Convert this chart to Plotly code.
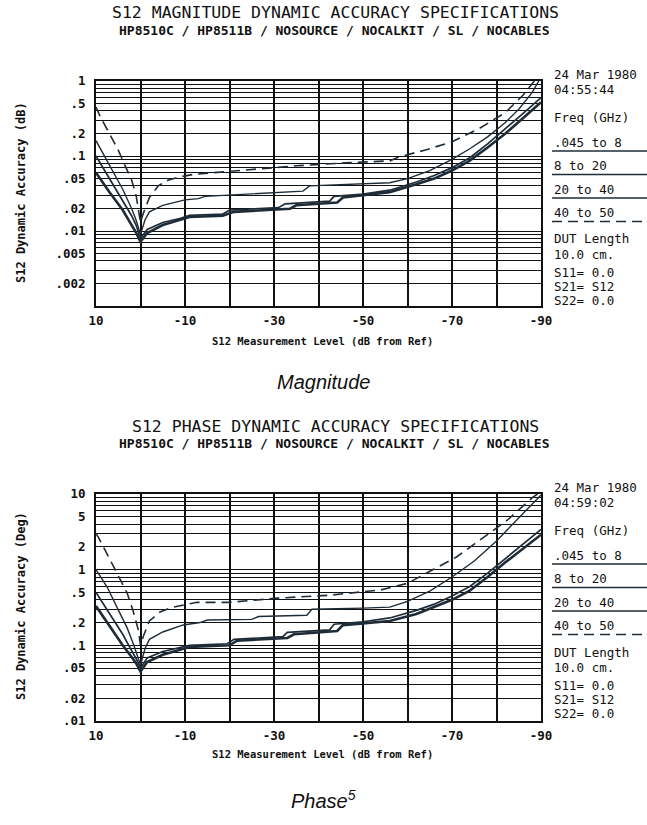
import plotly.graph_objects as go

W, H = 647, 825
INK = "#1f2c37"
GRID = "#111111"
MONO = "DejaVu Sans Mono"

# ---------------- tick labels ----------------
X_TICKS = [10, -10, -30, -50, -70, -90]
X_TICK_TEXT = ["10", "-10", "-30", "-50", "-70", "-90"]
X_MINOR = [0, -20, -40, -60, -80]

MAG_TICKS = [1, 0.5, 0.2, 0.1, 0.05, 0.02, 0.01, 0.005, 0.002]
MAG_TICK_TEXT = ["1", ".5", ".2", ".1", ".05", ".02", ".01", ".005", ".002"]
PH_TICKS = [10, 5, 2, 1, 0.5, 0.2, 0.1, 0.05, 0.02, 0.01]
PH_TICK_TEXT = ["10", "5", "2", "1", ".5", ".2", ".1", ".05", ".02", ".01"]

LEGEND_BANDS = [".045 to 8", "8 to 20", "20 to 40", "40 to 50"]

# ---------------- magnitude curves (dB) ----------------
mag_x_4050 = [10, 9, 7, 5, 3.5, 2, 1, 0, -0.6, -2, -4, -6, -9, -12, -18, -27, -35,
              -46, -56, -58, -64, -70, -76, -82, -86, -88.5]
mag_y_4050 = [0.45, 0.33, 0.2, 0.12, 0.075, 0.048, 0.03, 0.013, 0.017, 0.028, 0.04,
              0.047, 0.053, 0.057, 0.061, 0.067, 0.074, 0.081, 0.086, 0.097, 0.12,
              0.155, 0.23, 0.38, 0.65, 1.0]

mag_x_2040 = [10, 7, 4, 2, 1, 0, -1, -2, -5, -10, -13, -14.5, -25, -36.5, -38, -50,
              -56, -60, -65, -70, -74, -78, -82, -85, -88, -89.5]
mag_y_2040 = [0.16, 0.075, 0.036, 0.02, 0.014, 0.009, 0.014, 0.018, 0.022, 0.026,
              0.027, 0.029, 0.031, 0.034, 0.04, 0.042, 0.044, 0.05, 0.064, 0.09,
              0.125, 0.18, 0.28, 0.42, 0.7, 1.0]

mag_x_820 = [10, 7, 4, 2, 1, 0, -1.5, -5, -9, -11, -18.5, -20, -31, -32.5, -42.5,
             -43.5, -50, -56, -62, -66, -70, -74, -78, -82, -86, -90]
mag_y_820 = [0.1, 0.05, 0.026, 0.016, 0.012, 0.008, 0.0105, 0.013, 0.0148, 0.0162,
             0.0168, 0.019, 0.0205, 0.023, 0.025, 0.029, 0.031, 0.035, 0.045, 0.055,
             0.07, 0.095, 0.145, 0.23, 0.37, 0.6]

mag_x_0458 = [10, 7, 4, 2, 1, 0, -1.5, -5, -9, -11, -18.5, -21, -33.6, -35, -44.2,
              -45.5, -50, -56, -62, -66, -70, -74, -78, -82, -86, -90]
mag_y_0458 = [0.06, 0.033, 0.019, 0.012, 0.0095, 0.0072, 0.0094, 0.012, 0.014,
              0.0154, 0.016, 0.018, 0.0198, 0.022, 0.024, 0.028, 0.03, 0.033, 0.042,
              0.05, 0.064, 0.087, 0.13, 0.2, 0.32, 0.52]

# ---------------- phase curves (deg) ----------------
ph_x_4050 = [10, 9.5, 6.8, 5.3, 3, 1.7, 0.5, 0, -0.6, -2, -4.4, -7.3, -9.6, -12.7,
             -20, -30.7, -42.6, -54, -60, -65.7, -71, -76.3, -82.4, -88.2, -89.2]
ph_y_4050 = [3.0, 2.7, 1.34, 0.9, 0.49, 0.29, 0.16, 0.1, 0.13, 0.21, 0.276, 0.32,
             0.34, 0.37, 0.37, 0.42, 0.46, 0.54, 0.66, 0.99, 1.47, 2.47, 4.5, 9.1, 10.0]

ph_x_2040 = [10, 7.5, 5.3, 3, 1.5, 0, -1, -2, -5, -9.6, -13.4, -15, -25, -26.5, -37.4,
             -38.5, -50, -56, -60, -65, -70, -75, -80, -85, -90]
ph_y_2040 = [1.0, 0.59, 0.32, 0.17, 0.1, 0.055, 0.09, 0.12, 0.15, 0.186, 0.2, 0.216,
             0.22, 0.24, 0.25, 0.3, 0.31, 0.32, 0.38, 0.52, 0.8, 1.3, 2.4, 4.9, 9.7]

ph_x_820 = [10, 7, 4, 2, 1, 0, -1.5, -5, -9, -11, -19.5, -21, -32, -33, -42.5, -43.5,
            -50, -56, -62, -66, -70, -74, -78, -82, -86, -90]
ph_y_820 = [0.5, 0.26, 0.14, 0.085, 0.067, 0.05, 0.068, 0.083, 0.095, 0.1, 0.105,
            0.12, 0.13, 0.148, 0.16, 0.19, 0.205, 0.23, 0.29, 0.35, 0.45, 0.6, 0.9,
            1.4, 2.2, 3.4]

ph_x_0458 = [10, 7, 4, 2, 1, 0, -1.5, -5, -9, -11, -20, -21.7, -33, -34.5, -44.2,
             -45.5, -50, -56, -62, -66, -70, -74, -78, -82, -86, -90]
ph_y_0458 = [0.33, 0.18, 0.1, 0.07, 0.058, 0.045, 0.06, 0.075, 0.088, 0.095, 0.1,
             0.115, 0.125, 0.14, 0.155, 0.185, 0.195, 0.21, 0.26, 0.32, 0.4, 0.53,
             0.8, 1.25, 1.9, 2.9]

# ---------------- figure ----------------
fig = go.Figure()

STYLES = {
    "4050": dict(color=INK, width=1.6, dash="10px,6px"),
    "2040": dict(color=INK, width=1.4),
    "820": dict(color=INK, width=1.7),
    "0458": dict(color=INK, width=2.6),
}


def add(xs, ys, key, xa, ya):
    fig.add_trace(go.Scatter(x=xs, y=ys, xaxis=xa, yaxis=ya, mode="lines",
                             line=STYLES[key], showlegend=False, hoverinfo="skip"))


for xa, ya, sets in [
    ("x", "y", [(mag_x_0458, mag_y_0458, "0458"), (mag_x_820, mag_y_820, "820"),
                (mag_x_2040, mag_y_2040, "2040"), (mag_x_4050, mag_y_4050, "4050")]),
    ("x2", "y2", [(ph_x_0458, ph_y_0458, "0458"), (ph_x_820, ph_y_820, "820"),
                  (ph_x_2040, ph_y_2040, "2040"), (ph_x_4050, ph_y_4050, "4050")]),
]:
    for xs, ys, k in sets:
        add(xs, ys, k, xa, ya)


def minor_log(lo_exp, hi_exp):
    vals = []
    for e in range(lo_exp, hi_exp):
        for k in range(1, 10):
            vals.append(k * 10.0 ** e)
    return vals


TICKFONT = dict(family=MONO, size=12.5, color="#111", weight="bold")


def xaxis_cfg(anchor):
    return dict(
        domain=[96 / W, 541 / W], range=[10, -90], anchor=anchor,
        tickmode="array", tickvals=X_TICKS, ticktext=X_TICK_TEXT,
        showgrid=True, gridcolor=GRID, gridwidth=1.7, zeroline=False,
        showline=True, linecolor=GRID, linewidth=2, mirror=True,
        ticks="", ticklabelstandoff=2, tickfont=TICKFONT,
        minor=dict(tickvals=X_MINOR, showgrid=True, gridcolor=GRID, gridwidth=1.7, ticks=""),
        automargin=False,
    )


def yaxis_cfg(anchor, top, bottom, rng, tv, tt, lo, hi):
    return dict(
        type="log", domain=[(H - bottom) / H, (H - top) / H], range=rng, anchor=anchor,
        tickmode="array", tickvals=tv, ticktext=tt,
        showgrid=True, gridcolor=GRID, gridwidth=1.1, zeroline=False,
        showline=True, linecolor=GRID, linewidth=2, mirror=True,
        ticks="", ticklabelstandoff=6, tickfont=TICKFONT,
        minor=dict(tickvals=minor_log(lo, hi), showgrid=True, gridcolor=GRID,
                   gridwidth=1.1, ticks=""),
        automargin=False,
    )


annotations = []
shapes = []


def txt(x, y, s, size, anchor="center", bold=False, family=MONO, italic=False, angle=0):
    annotations.append(dict(
        x=x / W, y=1 - y / H, xref="paper", yref="paper", text=s, showarrow=False,
        xanchor=anchor, yanchor="middle", textangle=angle,
        font=dict(family=family, size=size, color="#111",
                  weight="bold" if bold else "normal",
                  style="italic" if italic else "normal"),
    ))


LS = 12.5  # legend text size


def panel(dy, title, stamp_time, yunit):
    txt(335, 13 + dy, title, 16.5)
    txt(334, 30 + dy, "HP8510C / HP8511B / NOSOURCE / NOCALKIT / SL / NOCABLES", 13, bold=True)
    txt(21, 193 + dy, "S12 Dynamic Accuracy (" + yunit + ")", 12, bold=True, angle=-90)
    txt(322, 341 + dy, "S12 Measurement Level (dB from Ref)", 10.5, bold=True)
    lx = 552
    txt(lx, 74 + dy, "24 Mar 1980", LS, anchor="left")
    txt(lx, 89 + dy, stamp_time, LS, anchor="left")
    txt(lx, 117 + dy, "Freq (GHz)", LS, anchor="left")
    keys = ["0458", "820", "2040", "4050"]
    for i, lab in enumerate(LEGEND_BANDS):
        yy = 142 + 23.5 * i + dy
        txt(lx, yy, lab, LS, anchor="left")
        st = STYLES[keys[i]]
        shapes.append(dict(type="line", xref="paper", yref="paper",
                           x0=lx / W, x1=1.0, y0=1 - (yy + 9) / H, y1=1 - (yy + 9) / H,
                           line=dict(color=INK, width=1.6,
                                     dash=st.get("dash", "solid"))))
    txt(lx, 239 + dy, "DUT Length", LS, anchor="left")
    txt(lx, 254 + dy, "10.0 cm.", LS, anchor="left")
    txt(lx, 272 + dy, "S11= 0.0", LS, anchor="left")
    txt(lx, 286 + dy, "S21= S12", LS, anchor="left")
    txt(lx, 300 + dy, "S22= 0.0", LS, anchor="left")


panel(0, "S12 MAGNITUDE DYNAMIC ACCURACY SPECIFICATIONS", "04:55:44", "dB")
panel(413, "S12 PHASE DYNAMIC ACCURACY SPECIFICATIONS", "04:59:02", "Deg")
txt(323, 382, "Magnitude", 20, family="Liberation Sans", italic=True)
txt(323, 799, "Phase<sup>5</sup>", 20, family="Liberation Sans", italic=True)

fig.update_layout(
    width=W, height=H, autosize=False, template="none",
    margin=dict(l=0, r=0, t=0, b=0, pad=0),
    paper_bgcolor="white", plot_bgcolor="white",
    xaxis=xaxis_cfg("y"),
    yaxis=yaxis_cfg("x", 81, 306, [-3, 0], MAG_TICKS, MAG_TICK_TEXT, -3, 0),
    xaxis2=xaxis_cfg("y2"),
    yaxis2=yaxis_cfg("x2", 494, 721, [-2, 1], PH_TICKS, PH_TICK_TEXT, -2, 1),
    annotations=annotations, shapes=shapes, showlegend=False,
)

fig.write_html("out.html", config={"displayModeBar": False},
               post_script="document.body.style.margin='0';document.body.style.overflow='hidden';")
